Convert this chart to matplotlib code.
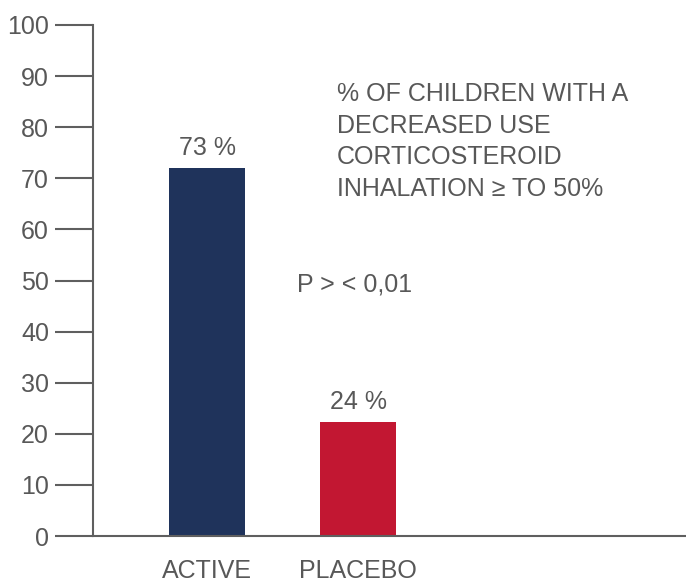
import matplotlib
matplotlib.use('agg')
import matplotlib.pyplot as plt

# data
groups = ['ACTIVE', 'PLACEBO']
values = [72, 22.3]
bar_labels = ['73 %', '24 %']
colors = ['#1f335b', '#c21732']
yticks = list(range(0, 101, 10))
note = '% OF CHILDREN WITH A\nDECREASED USE\nCORTICOSTEROID\nINHALATION \u2265 TO 50%'
pval = 'P > < 0,01'

plt.rcParams['font.family'] = ['Liberation Sans', 'DejaVu Sans']
txt_col = '#585858'
ax_col = '#5f5f5f'
fs = 18

fig = plt.figure(figsize=(6.86, 5.84), dpi=100)
ax = fig.add_axes([93/686, 1-536/584, 1-93/686, (536-25)/584])

x = range(len(groups))
ax.bar(x, values, width=0.5, color=colors, zorder=2)
for xi, v, lab in zip(x, values, bar_labels):
    ax.text(xi, v + 2.6, lab, ha='center', va='baseline', fontsize=fs, color=txt_col)

ax.text(0.861, 88.8, note, ha='left', va='top', fontsize=fs, color=txt_col, linespacing=1.4)
ax.text(0.596, 49.2, pval, ha='left', va='center', fontsize=fs, color=txt_col)

ax.set_xlim(-0.755, 3.17)
ax.set_ylim(0, 100)
ax.set_xticks(list(x))
ax.set_xticklabels(groups)
ax.set_yticks(yticks)

for s in ['top', 'right']:
    ax.spines[s].set_visible(False)
for s in ['left', 'bottom']:
    ax.spines[s].set_color(ax_col)
    ax.spines[s].set_linewidth(1.5)

ax.tick_params(axis='y', length=27.4, width=1.5, color=ax_col, pad=4.3,
               labelsize=fs, labelcolor=txt_col)
ax.tick_params(axis='x', length=0, pad=16.5, labelsize=fs, labelcolor=txt_col)

fig.savefig('out.png', dpi=100)
